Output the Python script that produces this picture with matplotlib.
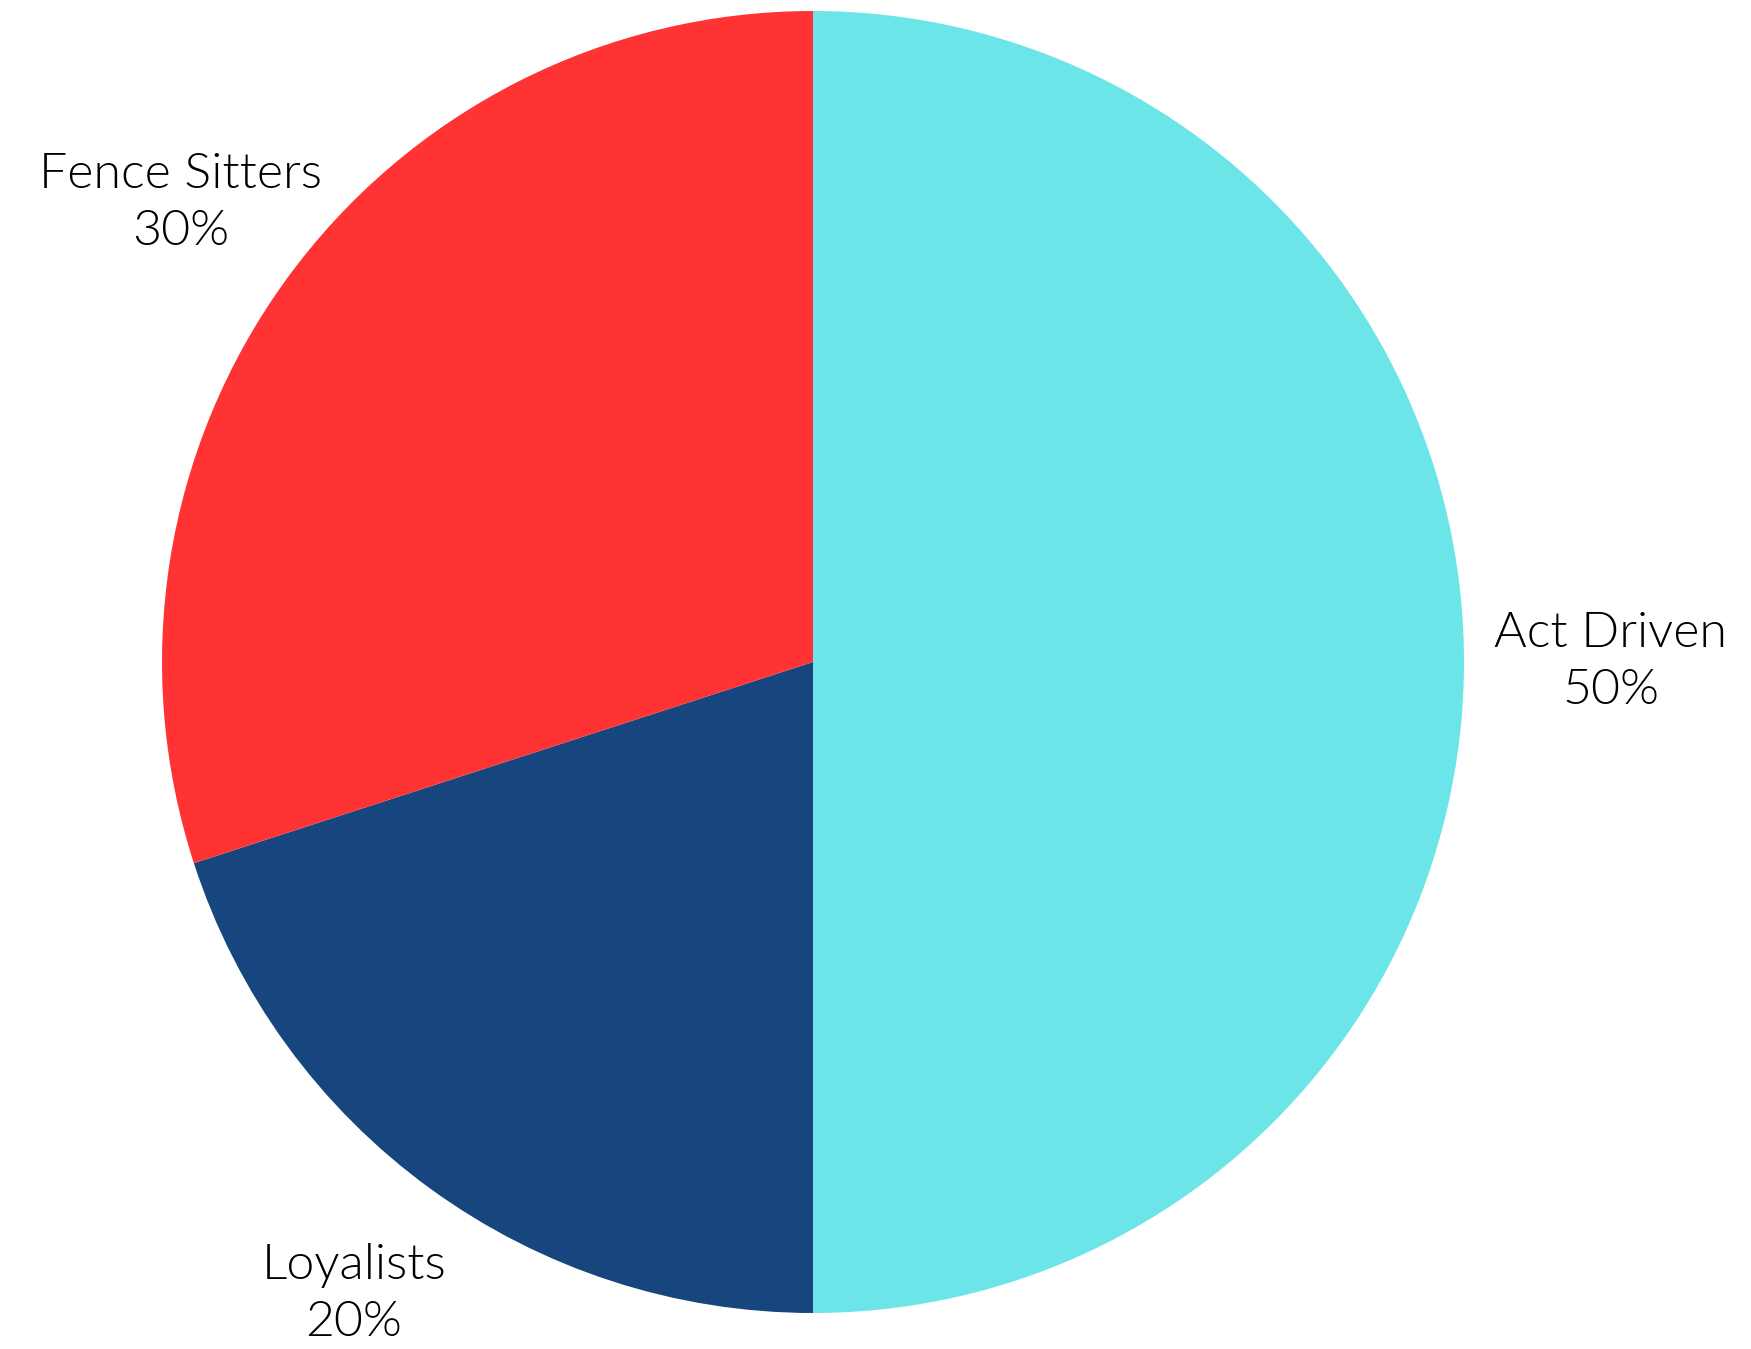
import matplotlib
matplotlib.use("Agg")
import numpy as np
import matplotlib.pyplot as plt

categories = ["Act Driven", "Loyalists", "Fence Sitters"]
values = [50, 20, 30]
colors = ["#6CE5E8", "#16467D", "#FF3333"]
label_dist = [1.225, 1.2, 1.2]

labels = [f"{c}\n{v}%" for c, v in zip(categories, values)]

W, H = 1751, 1349
fig = plt.figure(figsize=(W / 100, H / 100), dpi=100)
cx, cy, r = 813, 662, 651
ax = fig.add_axes([(cx - r) / W, (H - cy - r) / H, 2 * r / W, 2 * r / H])
wedges, texts = ax.pie(values, labels=labels, colors=colors, startangle=90, counterclock=False,
       radius=1, labeldistance=1.2,
       textprops=dict(ha="center", va="center", fontsize=36, family=["Lato", "DejaVu Sans"],
                      fontweight=300, color="black", linespacing=1.35),
       wedgeprops=dict(linewidth=0))
for w, t, d in zip(wedges, texts, label_dist):
    ang = np.deg2rad((w.theta1 + w.theta2) / 2)
    t.set_position((d * np.cos(ang), d * np.sin(ang)))
ax.set_xlim(-1, 1)
ax.set_ylim(-1, 1)
ax.set_aspect("equal")
ax.axis("off")
fig.savefig("out.png", dpi=100)
